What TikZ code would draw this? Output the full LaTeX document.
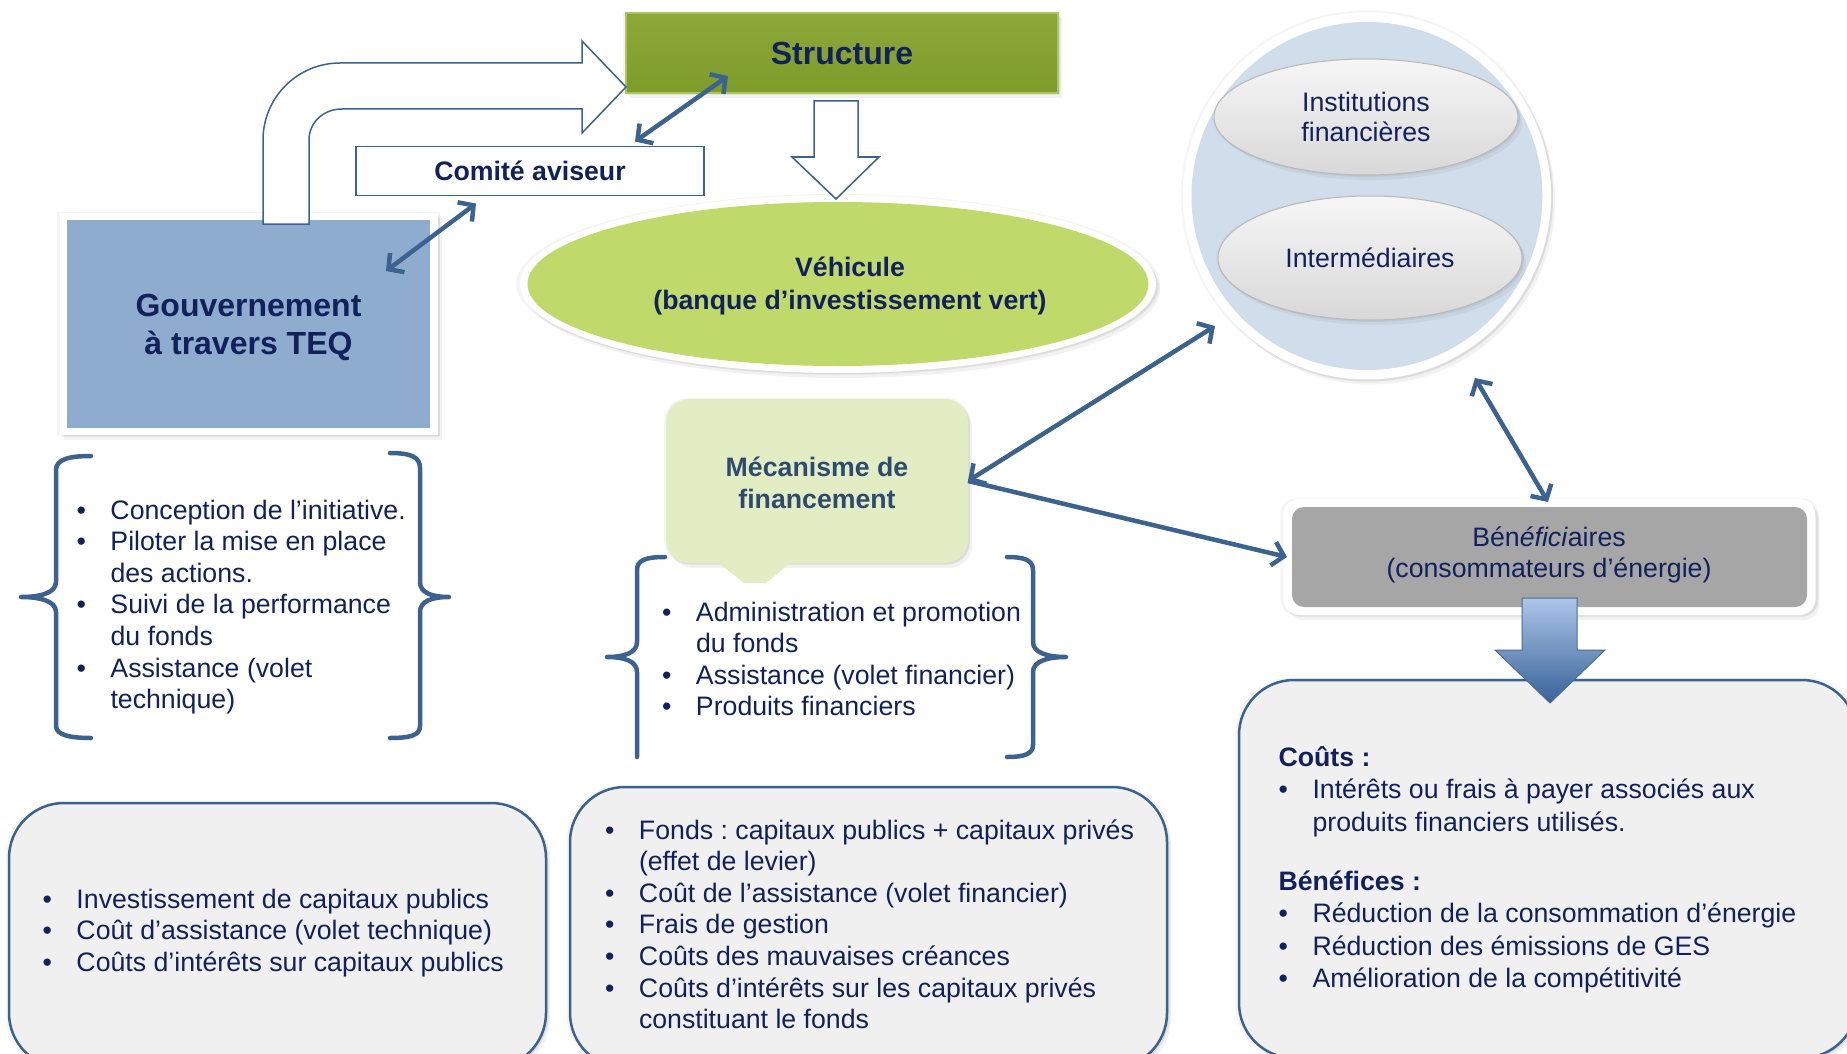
\documentclass[tikz,border=0pt]{standalone}
\usepackage{fontspec}
\setmainfont{Liberation Sans}
\frenchspacing
\usetikzlibrary{arrows.meta,shadows,calc,shapes.geometric}
\definecolor{navy}{RGB}{18,33,92}
\definecolor{slate}{RGB}{46,74,110}
\definecolor{lineblue}{RGB}{60,98,143}
\definecolor{gouvblue}{RGB}{141,172,206}
\definecolor{greenA}{RGB}{140,168,58}
\definecolor{greenB}{RGB}{126,156,42}
\definecolor{greenL}{RGB}{172,196,98}
\definecolor{vehgreen}{RGB}{191,217,106}
\definecolor{circblue}{RGB}{208,222,236}
\definecolor{mecgreen}{RGB}{227,237,196}
\definecolor{benegray}{RGB}{166,166,166}
\definecolor{boxgray}{RGB}{240,240,240}
\definecolor{ovalA}{RGB}{246,246,246}
\definecolor{ovalB}{RGB}{216,216,216}
\definecolor{ovalE}{RGB}{185,185,185}
\definecolor{barrA}{RGB}{172,198,232}
\definecolor{barrB}{RGB}{56,98,152}
\definecolor{barrE}{RGB}{74,108,150}
\newcommand\fzN{\fontsize{26.7}{31.6}\selectfont}
\newcommand\fzW{\fontsize{26.7}{32.5}\selectfont}
\newcommand\fzO{\fontsize{26.7}{30.5}\selectfont}
\newcommand\fzNB{\fontsize{26.7}{31.5}\selectfont\bfseries}
\newcommand\fzVB{\fontsize{26.7}{33}\selectfont\bfseries}
\newcommand\fzMB{\fontsize{26.7}{32}\selectfont\bfseries}
\newcommand\fzB{\fontsize{32}{38}\selectfont\bfseries}
\newcommand\bul{\makebox[34pt][l]{\textbullet}}
\newcommand\indt{\hspace*{34pt}}
\begin{document}
\begin{tikzpicture}[x=1pt,y=-1pt,
  every node/.style={inner sep=0pt,outer sep=0pt},
  >={Straight Barb[length=11pt,width=24pt]},
  conn/.style={draw=lineblue,line width=4.5pt},
  brace/.style={draw=lineblue,line width=4.5pt,line cap=round,line join=round},
  sh/.style={drop shadow={opacity=0.08,shadow xshift=0pt,shadow yshift=0pt,shadow scale=1.012},
             drop shadow={opacity=0.12,shadow xshift=2pt,shadow yshift=-2pt},
             drop shadow={opacity=0.1,shadow xshift=4pt,shadow yshift=-5pt}},
  bigbox/.style={rectangle,draw=lineblue,line width=2.5pt,fill=boxgray,rounded corners=55pt,sh},
  lst/.style={anchor=base west,text=navy,font=\fzN},
  oval/.style={ellipse,draw=ovalE,line width=1pt,top color=ovalA,bottom color=ovalB,sh},
  frame/.style={fill=white,sh},
  blockarrow/.style={draw=lineblue,line width=1.5pt,fill=white}
]
\useasboundingbox (0,0) rectangle (1847,1054);
\clip (0,0) rectangle (1847,1054);

% bottom boxes
\node[bigbox,minimum width=537pt,minimum height=265pt] (boxL) at (277.5,935.5) {};
\node[bigbox,minimum width=597pt,minimum height=281pt] (boxM) at (868.5,927.5) {};
\node[bigbox,minimum width=618pt,minimum height=378pt] (boxR) at (1548,869) {};

% braces
\draw[brace] (91,456) .. controls (70,456) and (56,459) .. (56,470) -- (56,582)
  .. controls (56,593) and (40,597) .. (21,597) .. controls (40,597) and (56,601) .. (56,612)
  -- (56,726) .. controls (56,735) and (70,738) .. (91,738);
\draw[brace] (390,453) .. controls (411,453) and (420,457) .. (420,468) -- (420,582)
  .. controls (420,593) and (432,597) .. (449,597) .. controls (432,597) and (420,601) .. (420,612)
  -- (420,726) .. controls (420,735) and (411,738) .. (390,738);
\draw[brace] (665,557) .. controls (646,557) and (637,560) .. (637,570) -- (637,642)
  .. controls (637,653) and (624,657) .. (607,657) .. controls (624,657) and (637,661) .. (637,672)
  -- (637,757);
\draw[brace] (1007,557) .. controls (1024,557) and (1033,560) .. (1033,570) -- (1033,642)
  .. controls (1033,653) and (1048,657) .. (1066,657) .. controls (1048,657) and (1033,661) .. (1033,672)
  -- (1033,745) .. controls (1033,754) and (1024,757) .. (1007,757);

% Gouvernement, Structure, Comite
\node[rectangle,frame,minimum width=378pt,minimum height=222pt] (gouvframe) at (248.5,324) {};
\node[rectangle,fill=gouvblue,minimum width=363pt,minimum height=208pt] (gouv) at (248.5,324) {};
\node[text=navy,font=\fzB,align=center] (gouvtxt) at (248.5,327.5) {Gouvernement\\à travers TEQ};
\node[rectangle,top color=greenA,bottom color=greenB,draw=greenL,line width=1.5pt,
      minimum width=432pt,minimum height=80pt,sh,text=navy,font=\fzB] (struct) at (842,53) {Structure};
\node[rectangle,fill=white,draw=lineblue,line width=1.5pt,minimum width=348pt,minimum height=49pt,
      text=navy,font=\fzNB] (comite) at (530,171) {Comité aviseur};

% bent block arrow
\draw[blockarrow] (263,224) -- (263,140) .. controls (263,97.5) and (297.5,63) .. (340,63)
  -- (582,63) -- (582,41) -- (626,87) -- (582,133) -- (582,109) -- (342,109)
  .. controls (323,109) and (309,122.9) .. (309,140) -- (309,224) -- cycle;

% Vehicule
\node[ellipse,frame,minimum width=636pt,minimum height=178pt] (vehframe) at (838,284) {};
\node[ellipse,fill=vehgreen,minimum width=621pt,minimum height=164pt] (veh) at (838,284) {};
\node[text=navy,font=\fzVB,align=center] (vehtxt) at (850,285.5) {Véhicule\\(banque d’investissement vert)};
\draw[blockarrow] (814,101) -- (858,101) -- (858,157) -- (879,157) -- (836,199) -- (792,157) -- (814,157) -- cycle;

% circle with ovals
\node[ellipse,frame,minimum width=368pt,minimum height=367pt] (circframe) at (1367,196) {};
\node[ellipse,fill=circblue,minimum width=351pt,minimum height=348pt] (circ) at (1367,196) {};
\node[oval,minimum width=304pt,minimum height=116pt,text=navy,font=\fzO,align=center] (inst) at (1366,117) {Institutions\\financières};
\node[oval,minimum width=304pt,minimum height=124pt,text=navy,font=\fzN] (inter) at (1370,258) {Intermédiaires};

% Mecanisme callout
\node[rectangle,rounded corners=23pt,fill=mecgreen,minimum width=302pt,minimum height=164pt,sh] (mec) at (817,481) {};
\fill[mecgreen] (716,561) -- (793,561) -- (766,583) -- (744,583) -- cycle;
\node[text=slate,font=\fzMB,align=center] (mectxt) at (817,483) {Mécanisme de\\financement};

% Beneficiaires
\node[rectangle,rounded corners=16pt,frame,minimum width=532pt,minimum height=116pt] (beneframe) at (1549.5,557) {};
\node[rectangle,rounded corners=12pt,fill=benegray,minimum width=515pt,minimum height=100pt] (bene) at (1549.5,557) {};
\node[text=navy,font=\fzO,align=center] (benetxt) at (1549,555) {Bén\textit{éfici}aires\\(consommateurs d’énergie)};
\draw[draw=barrE,line width=1pt,top color=barrA,bottom color=barrB]
  (1522,598) -- (1577,598) -- (1577,650) -- (1605,650) -- (1550,703) -- (1495,650) -- (1522,650) -- cycle;

% connectors
\draw[conn,<->] ($(comite.north west)+(279,-5)$) -- ($(struct.south west)+(102,-17)$);
\draw[conn,<->] ($(gouv.north west)+(319,51)$) -- ($(comite.south west)+(120,8)$);
\draw[conn,<->] (mec.east) -- ($(circ.center)+(-152,130)$);
\draw[conn,->] (mec.east) -- ($(bene.west)+(-5,0)$);
\draw[conn,<->] ($(circ.center)+(108,182)$) -- ($(bene.north)+(-1.5,-5)$);

% lists
\node[lst] (listG) at (76.5,519) {\begin{tabular}[t]{@{}l@{}}
\bul Conception de l’initiative.\\
\bul Piloter la mise en place\\
\indt des actions.\\
\bul Suivi de la performance\\
\indt du fonds\\
\bul Assistance (volet\\
\indt technique)
\end{tabular}};
\node[lst] (listM) at (662,621) {\begin{tabular}[t]{@{}l@{}}
\bul Administration et promotion\\
\indt du fonds\\
\bul Assistance (volet financier)\\
\bul Produits financiers
\end{tabular}};
\node[lst] (listBL) at (42.5,908) {\begin{tabular}[t]{@{}l@{}}
\bul Investissement de capitaux publics\\
\bul Coût d’assistance (volet technique)\\
\bul Coûts d’intérêts sur capitaux publics
\end{tabular}};
\node[lst] (listBM) at (605,839) {\begin{tabular}[t]{@{}l@{}}
\bul Fonds : capitaux publics + capitaux privés\\
\indt (effet de levier)\\
\bul Coût de l’assistance (volet financier)\\
\bul Frais de gestion\\
\bul Coûts des mauvaises créances\\
\bul Coûts d’intérêts sur les capitaux privés\\
\indt constituant le fonds
\end{tabular}};
\node[lst,font=\fzW] (listC) at (1278.5,766) {\begin{tabular}[t]{@{}l@{}}
\textbf{Coûts :}\\
\bul Intérêts ou frais à payer associés aux\\
\indt produits financiers utilisés.
\end{tabular}};
\node[lst,font=\fzW] (listB) at (1278.5,890) {\begin{tabular}[t]{@{}l@{}}
\textbf{Bénéfices :}\\
\bul Réduction de la consommation d’énergie\\
\bul Réduction des émissions de GES\\
\bul Amélioration de la compétitivité
\end{tabular}};
\end{tikzpicture}
\end{document}
